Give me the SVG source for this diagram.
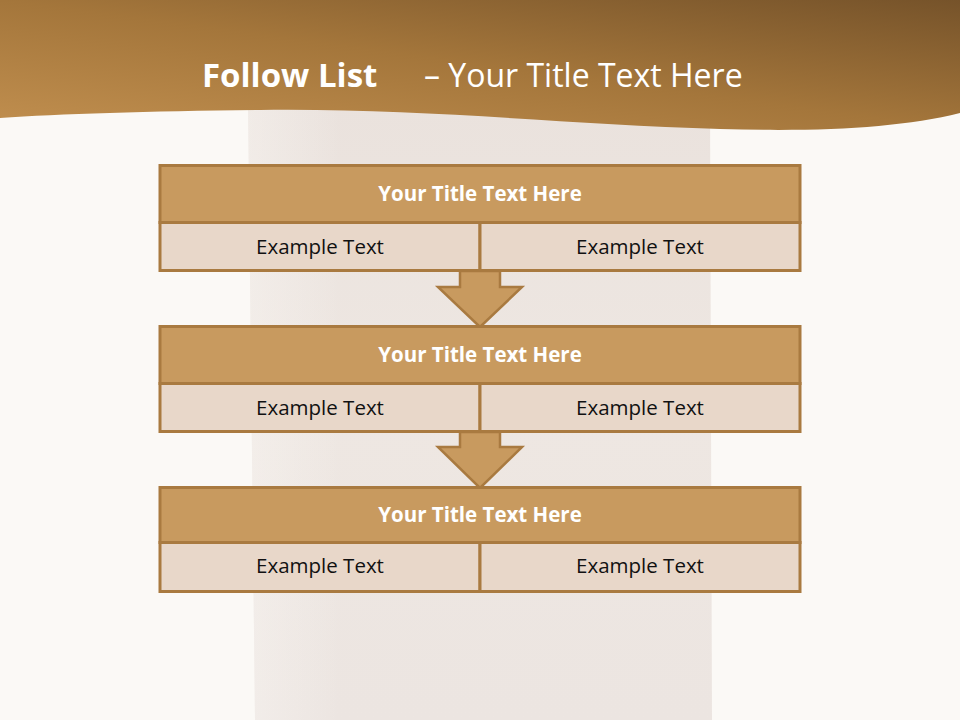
<svg xmlns="http://www.w3.org/2000/svg" width="960" height="720" viewBox="0 0 960 720">
<defs>
<linearGradient id="hdr" x1="0" y1="1" x2="1" y2="0">
<stop offset="0" stop-color="#C18F4F"/>
<stop offset="0.5" stop-color="#A4763B"/>
<stop offset="1" stop-color="#76532A"/>
</linearGradient>
<linearGradient id="col" x1="0" y1="0" x2="0" y2="1">
<stop offset="0" stop-color="#EAE2DD"/>
<stop offset="0.5" stop-color="#EEE7E2"/>
<stop offset="1" stop-color="#ECE5E1"/>
</linearGradient>
<linearGradient id="colL" x1="0" y1="0" x2="1" y2="0">
<stop offset="0" stop-color="#FBF9F6" stop-opacity="0.4"/>
<stop offset="0.2" stop-color="#FBF9F6" stop-opacity="0"/>
<stop offset="1" stop-color="#FBF9F6" stop-opacity="0"/>
</linearGradient>
</defs>
<style>
.title{fill:#C89A5F;stroke:#A97A40;stroke-width:3}
.cell{fill:#E8D7C9;stroke:#A97A40;stroke-width:3}
.arrow{fill:#C89A5F;stroke:#A97A40;stroke-width:2.5;stroke-linejoin:miter}
.tt{font-family:"Open Sans","Noto Sans",sans-serif;font-weight:bold;font-size:20.5px;fill:#FFFFFF;text-anchor:middle}
.et{font-family:"Open Sans","Noto Sans",sans-serif;font-size:20.5px;fill:#111111;text-anchor:middle}
.hd{font-family:"Open Sans","Noto Sans",sans-serif;fill:#FFFFFF}
</style>
<rect x="0" y="0" width="960" height="720" fill="#FBF9F6"/>
<path d="M248,100 L710,100 L712,720 L255,720 Z" fill="url(#col)"/>
<path d="M248,100 L710,100 L712,720 L255,720 Z" fill="url(#colL)"/>
<path d="M0,0 L960,0 L960,113 C900,128 820,132 720,129 C560,124 420,108 260,110 C150,111 60,114 0,118 Z" fill="url(#hdr)"/>
<text class="hd" y="87"><tspan x="202" font-weight="bold" font-size="33">Follow List</tspan><tspan x="424" font-size="32">– Your Title Text Here</tspan></text>

<g id="connectors">
<path class="arrow" d="M460,271 L500,271 L500,287 L522,287 L480,327 L438,287 L460,287 Z"/>
<path class="arrow" d="M460,432 L500,432 L500,447 L522,447 L480,488 L438,447 L460,447 Z"/>
</g>

<g id="step1">
<rect class="title" x="160" y="165.5" width="640" height="57"/>
<rect class="cell" x="160" y="222.5" width="320" height="48"/>
<rect class="cell" x="480" y="222.5" width="320" height="48"/>
<text class="tt" x="480" y="200.5">Your Title Text Here</text>
<text class="et" x="320" y="253.5">Example Text</text>
<text class="et" x="640" y="253.5">Example Text</text>
</g>
<g id="step2">
<rect class="title" x="160" y="326.5" width="640" height="57"/>
<rect class="cell" x="160" y="383.5" width="320" height="48"/>
<rect class="cell" x="480" y="383.5" width="320" height="48"/>
<text class="tt" x="480" y="361.5">Your Title Text Here</text>
<text class="et" x="320" y="414.5">Example Text</text>
<text class="et" x="640" y="414.5">Example Text</text>
</g>
<g id="step3">
<rect class="title" x="160" y="487.5" width="640" height="55"/>
<rect class="cell" x="160" y="542.5" width="320" height="49"/>
<rect class="cell" x="480" y="542.5" width="320" height="49"/>
<text class="tt" x="480" y="521.5">Your Title Text Here</text>
<text class="et" x="320" y="572.5">Example Text</text>
<text class="et" x="640" y="572.5">Example Text</text>
</g>
</svg>
